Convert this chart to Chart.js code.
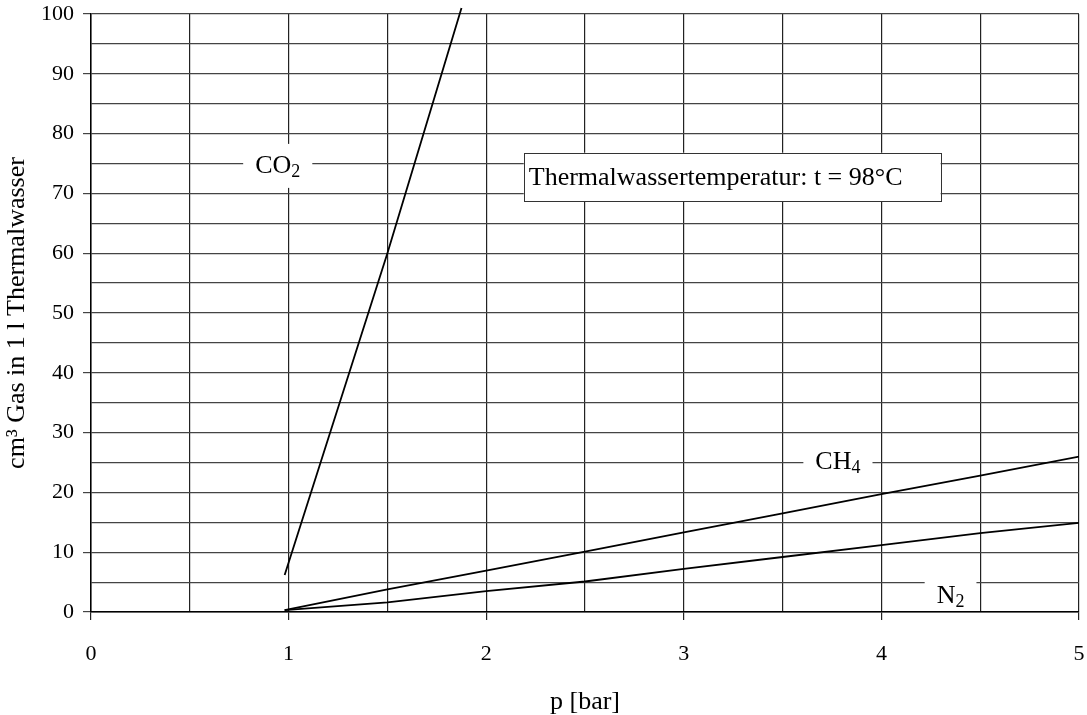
<!DOCTYPE html>
<html>
<head>
<meta charset="utf-8">
<script src="https://cdn.jsdelivr.net/npm/chart.js@4"></script>
<style>
  html, body { margin: 0; padding: 0; background: #fff; }
  #wrap { width: 1087px; height: 715px; }
</style>
</head>
<body>
<div id="wrap"><canvas id="chart" width="1087" height="715"></canvas></div>
<script>
/* Gas solubility in thermal water vs pressure */

const FONT = '"Liberation Serif", "Times New Roman", serif';

// pressure [bar]
const pressure = [0.98, 1.5, 2, 2.5, 3, 3.5, 4, 4.5, 5];
// cm3 gas per litre of thermal water
const ch4 = [0.3, 3.8, 6.9, 10.1, 13.3, 16.5, 19.7, 22.8, 26.0];
const n2 = [0.3, 1.6, 3.5, 5.1, 7.2, 9.2, 11.2, 13.2, 14.9];
const co2Pressure = [0.98, 1.5, 1.875];
const co2 = [6.2, 60, 101];

// series labels: [main, subscript, p, value]
const seriesLabels = [
    ['CO', '2', 0.945, 74.6],
    ['CH', '4', 3.78, 25],
    ['N', '2', 4.35, 2.6]
];
const noteText = 'Thermalwassertemperatur: t = 98°C';

function toPoints(xs, ys) {
    return xs.map((x, i) => ({ x: x, y: ys[i] }));
}

/**
 * Draw the in-plot labels with white boxes and the temperature note.
 */
const labelPlugin = {
    id: 'labels',
    afterDatasetsDraw(chart) {
        const ctx = chart.ctx;
        const xs = chart.scales.x, ys = chart.scales.y;
        ctx.save();
        ctx.textBaseline = 'middle';

        seriesLabels.forEach(([main, sub, p, v]) => {
            const cx = xs.getPixelForValue(p);
            const cy = ys.getPixelForValue(v);
            ctx.font = '26px ' + FONT;
            const w1 = ctx.measureText(main).width;
            ctx.font = '18px ' + FONT;
            const w2 = ctx.measureText(sub).width;
            const w = w1 + w2;
            ctx.fillStyle = '#fff';
            const bh = 44;
            let top = cy - bh / 2;
            let bottom = Math.min(cy + bh / 2, ys.bottom - 1);
            ctx.fillRect(cx - w / 2 - 12, top, w + 24, bottom - top);
            ctx.fillStyle = '#000';
            ctx.textAlign = 'left';
            ctx.font = '26px ' + FONT;
            ctx.fillText(main, cx - w / 2, cy);
            ctx.font = '18px ' + FONT;
            ctx.fillText(sub, cx - w / 2 + w1, cy + 6);
        });

        // temperature note box
        const x0 = xs.getPixelForValue(2.19), x1 = xs.getPixelForValue(4.30);
        const y0 = ys.getPixelForValue(76.8), y1 = ys.getPixelForValue(68.7);
        ctx.fillStyle = '#fff';
        ctx.fillRect(x0, y0, x1 - x0, y1 - y0);
        ctx.strokeStyle = '#333';
        ctx.lineWidth = 1;
        ctx.strokeRect(Math.round(x0) + 0.5, Math.round(y0) + 0.5, Math.round(x1 - x0), Math.round(y1 - y0));
        ctx.fillStyle = '#000';
        ctx.font = '26px ' + FONT;
        ctx.textAlign = 'left';
        ctx.fillText(noteText, x0 + 5, (y0 + y1) / 2 + 1);
        ctx.restore();
    }
};

const lineStyle = {
    borderColor: '#000',
    borderWidth: 1.8,
    pointRadius: 0,
    fill: false,
    tension: 0
};

new Chart(document.getElementById('chart'), {
    type: 'scatter',
    data: {
        datasets: [
            Object.assign({ label: 'CO2', data: toPoints(co2Pressure, co2), showLine: true, clip: false }, lineStyle),
            Object.assign({ label: 'CH4', data: toPoints(pressure, ch4), showLine: true }, lineStyle),
            Object.assign({ label: 'N2', data: toPoints(pressure, n2), showLine: true }, lineStyle)
        ]
    },
    options: {
        responsive: false,
        animation: false,
        layout: { padding: { left: 0, right: 8, top: 14, bottom: 0 } },
        plugins: {
            legend: { display: false },
            tooltip: { enabled: false }
        },
        scales: {
            x: {
                type: 'linear',
                min: 0,
                max: 5,
                afterFit(scale) {
                    scale.height = 103;
                    scale.paddingLeft = 0;
                    scale.paddingRight = 0;
                },
                ticks: {
                    stepSize: 0.5,
                    color: '#000',
                    font: { family: FONT, size: 22 },
                    padding: 21,
                    maxRotation: 0,
                    autoSkip: false,
                    callback: v => (Number.isInteger(v) ? String(v) : '')
                },
                grid: {
                    color: '#222',
                    lineWidth: 1.2,
                    tickLength: 8,
                    tickColor: c => (c.tick && Number.isInteger(c.tick.value) ? '#222' : 'rgba(0,0,0,0)')
                },
                border: { color: '#000', width: 1.5 },
                title: {
                    display: true,
                    text: 'p [bar]',
                    color: '#000',
                    font: { family: FONT, size: 26, lineHeight: 1 },
                    padding: { top: 0, bottom: 0 }
                }
            },
            y: {
                min: 0,
                max: 100,
                afterFit(scale) {
                    scale.width = 91;
                    scale.paddingTop = 0;
                    scale.paddingBottom = 0;
                },
                ticks: {
                    stepSize: 5,
                    color: '#000',
                    font: { family: FONT, size: 22 },
                    padding: 9,
                    autoSkip: false,
                    callback: v => (v % 10 === 0 ? String(v) : '')
                },
                grid: {
                    color: '#444',
                    lineWidth: 1.2,
                    tickLength: 8,
                    tickColor: c => (c.tick && c.tick.value % 10 === 0 ? '#444' : 'rgba(0,0,0,0)')
                },
                border: { color: '#000', width: 1.5 },
                title: {
                    display: true,
                    text: 'cm³ Gas in 1 l Thermalwasser',
                    color: '#000',
                    font: { family: FONT, size: 26, lineHeight: 1 },
                    padding: { top: 4, bottom: 0 }
                }
            }
        }
    },
    plugins: [labelPlugin]
});
</script>
</body>
</html>
